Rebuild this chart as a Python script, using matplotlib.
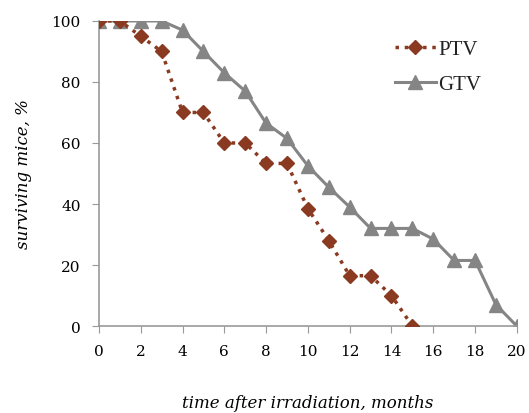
import matplotlib.pyplot as plt

# months after irradiation
months = list(range(0, 21))

# surviving mice, %
ptv_months = list(range(0, 16))
ptv = [100, 100, 95, 90, 70, 70, 60, 60, 53.3, 53.3, 38.5, 28, 16.5, 16.5, 10, 0]
gtv = [100, 100, 100, 100, 97, 90, 83, 77, 66.5, 61.5, 52.5, 45.5, 39, 32, 32, 32,
       28.5, 21.5, 21.5, 7, 0]

ptv_color = '#8b3a22'
gtv_color = '#858585'

fig = plt.figure(figsize=(5.29, 4.14), dpi=100)
ax = fig.add_axes([0.187, 0.21, 0.79, 0.737])

ax.plot(ptv_months, ptv, color=ptv_color, linestyle=':', linewidth=2.5,
        marker='D', markersize=7, label='PTV', zorder=3)
ax.plot(months, gtv, color=gtv_color, linestyle='-', linewidth=2.2,
        marker='^', markersize=10, label='GTV', zorder=2)

ax.set_xlim(0, 20)
ax.set_ylim(0, 100)
ax.set_xticks(range(0, 21, 2))
ax.set_yticks(range(0, 101, 20))

for side in ['top', 'right']:
    ax.spines[side].set_visible(False)
for side in ['left', 'bottom']:
    ax.spines[side].set_color('#999999')
    ax.spines[side].set_linewidth(1.2)
ax.tick_params(direction='out', length=5, color='#999999', labelsize=11,
               pad=8)
for lbl in ax.get_xticklabels() + ax.get_yticklabels():
    lbl.set_family('DejaVu Serif')

ax.set_xlabel('time after irradiation, months', family='DejaVu Serif',
              style='italic', fontsize=12, labelpad=26)
ax.set_ylabel('surviving mice, %', family='DejaVu Serif', style='italic',
              fontsize=12, labelpad=14)

leg = ax.legend(loc='upper right', bbox_to_anchor=(0.96, 1.0), frameon=False,
                prop={'family': 'Liberation Serif', 'size': 15},
                handlelength=2.0, handletextpad=0.1, labelspacing=0.75)
for t in leg.get_texts():
    t.set_color('#222222')

plt.savefig('out.png', dpi=100)
